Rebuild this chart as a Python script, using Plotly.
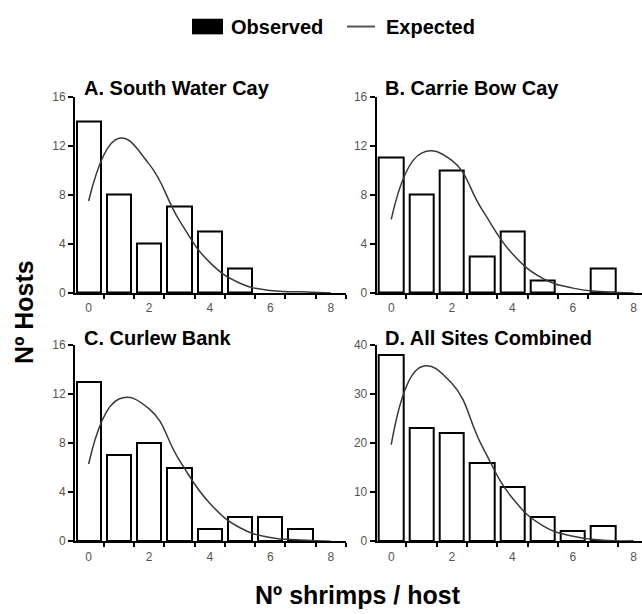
import plotly.graph_objects as go

# ---------------- data ----------------
categories = [0, 1, 2, 3, 4, 5, 6, 7]
obs_A = [14, 8, 4, 7, 5, 2, 0, 0]
obs_B = [11, 8, 10, 3, 5, 1, 0, 2]
obs_C = [13, 7, 8, 6, 1, 2, 2, 1]
obs_D = [38, 23, 22, 16, 11, 5, 2, 3]

exp_x = [0, 1, 2, 3, 4, 5, 6, 7, 8]
exp_A = [7.5, 12.6, 10.5, 5.9, 2.5, 0.8, 0.2, 0.1, 0.0]
exp_B = [6.0, 11.4, 10.8, 6.8, 3.2, 1.2, 0.4, 0.1, 0.0]
exp_C = [6.3, 11.6, 10.8, 6.6, 3.1, 1.1, 0.3, 0.1, 0.0]
exp_D = [19.7, 35.6, 32.2, 19.4, 8.8, 3.2, 1.0, 0.2, 0.1]

panel_titles = ["A. South Water Cay", "B. Carrie Bow Cay", "C. Curlew Bank", "D. All Sites Combined"]
x_tickvals = [0, 2, 4, 6, 8]
x_minor_ticks = [0.5, 1.5, 2.5, 3.5, 4.5, 5.5, 6.5, 7.5, 8.5]
y_ticks_small = [0, 4, 8, 12, 16]
y_ticks_big = [0, 10, 20, 30, 40]

W, H = 642, 614
FONT = "Liberation Sans, Arial, Helvetica, sans-serif"

fig = go.Figure()

panels = [
    (obs_A, exp_A, "x", "y"),
    (obs_B, exp_B, "x2", "y2"),
    (obs_C, exp_C, "x3", "y3"),
    (obs_D, exp_D, "x4", "y4"),
]
for obs, exp, xa, ya in panels:
    fig.add_trace(go.Bar(
        x=categories, y=[v if v else None for v in obs], xaxis=xa, yaxis=ya, width=0.8,
        marker=dict(color="white", line=dict(color="black", width=2)),
        showlegend=False, hoverinfo="skip"))
    fig.add_trace(go.Scatter(
        x=exp_x, y=exp, xaxis=xa, yaxis=ya, mode="lines",
        line=dict(color="#3a3a3a", width=1.5, shape="spline", smoothing=1.3),
        showlegend=False, hoverinfo="skip"))

def px_x(p):
    return p / W

def px_y(p):
    return 1 - p / H

xdomL = [px_x(75), px_x(346)]
xdomR = [px_x(376.7), 1.0]
ydomT = [px_y(292.7), px_y(91.7)]
ydomB = [px_y(546.7), px_y(346)]

tickfont = dict(family=FONT, size=12, color="#555555")

def xaxis_cfg(domain, rng, anchor):
    return dict(
        domain=domain, range=rng, anchor=anchor,
        showline=True, linecolor="black", linewidth=2,
        showgrid=False, zeroline=False,
        tickmode="array", tickvals=x_tickvals,
        ticks="outside", ticklen=3, tickcolor="rgba(0,0,0,0)",
        tickfont=tickfont,
        minor=dict(tickmode="array", tickvals=x_minor_ticks, ticks="outside",
                   ticklen=4, tickwidth=1.5, tickcolor="black", showgrid=False),
    )

def yaxis_cfg(domain, rng, tv, anchor):
    return dict(
        domain=domain, range=rng, anchor=anchor,
        showline=True, linecolor="black", linewidth=2,
        showgrid=False, zeroline=False,
        tickmode="array", tickvals=tv,
        ticks="outside", ticklen=5, tickwidth=1.5, tickcolor="black",
        tickfont=tickfont,
    )

fig.update_layout(
    width=W, height=H,
    margin=dict(l=0, r=0, t=0, b=0),
    paper_bgcolor="white", plot_bgcolor="white",
    showlegend=False,
    bargap=0,
    xaxis=xaxis_cfg(xdomL, [-0.45, 8.5], "y"),
    yaxis=yaxis_cfg(ydomT, [0, 16], y_ticks_small, "x"),
    xaxis2=xaxis_cfg(xdomR, [-0.48, 8.28], "y2"),
    yaxis2=yaxis_cfg(ydomT, [0, 16], y_ticks_small, "x2"),
    xaxis3=xaxis_cfg(xdomL, [-0.45, 8.5], "y3"),
    yaxis3=yaxis_cfg(ydomB, [0, 16], y_ticks_small, "x3"),
    xaxis4=xaxis_cfg(xdomR, [-0.48, 8.28], "y4"),
    yaxis4=yaxis_cfg(ydomB, [0, 40], y_ticks_big, "x4"),
)

annotations = []
title_pos = [(82, 83), (383, 83), (82, 339), (383, 339)]
for t, (tx, ty) in zip(panel_titles, title_pos):
    annotations.append(dict(
        text="<b>%s</b>" % t, x=px_x(tx), y=px_y(ty), xref="paper", yref="paper",
        xanchor="left", yanchor="middle", showarrow=False,
        font=dict(family=FONT, size=20, color="black")))

# axis titles
annotations.append(dict(
    text="<b>Nº shrimps / host</b>", x=px_x(358), y=px_y(602), xref="paper", yref="paper",
    xanchor="center", yanchor="middle", showarrow=False,
    font=dict(family=FONT, size=25, color="black")))
annotations.append(dict(
    text="<b>Nº Hosts</b>", x=px_x(24), y=px_y(312), xref="paper", yref="paper",
    xanchor="center", yanchor="middle", showarrow=False, textangle=-90,
    font=dict(family=FONT, size=25, color="black")))

# legend
annotations.append(dict(
    text="<b>Observed</b>", x=px_x(229), y=px_y(20), xref="paper", yref="paper",
    xanchor="left", yanchor="middle", showarrow=False,
    font=dict(family=FONT, size=20, color="black")))
annotations.append(dict(
    text="<b>Expected</b>", x=px_x(384), y=px_y(20), xref="paper", yref="paper",
    xanchor="left", yanchor="middle", showarrow=False,
    font=dict(family=FONT, size=20, color="black")))

shapes = [
    dict(type="rect", xref="paper", yref="paper",
         x0=px_x(192), x1=px_x(223), y0=px_y(12), y1=px_y(28),
         fillcolor="black", line=dict(width=0)),
    dict(type="line", xref="paper", yref="paper",
         x0=px_x(347), x1=px_x(375), y0=px_y(20), y1=px_y(20),
         line=dict(color="#555555", width=2)),
]

fig.update_layout(annotations=annotations, shapes=shapes)

fig.write_html("out.html")
